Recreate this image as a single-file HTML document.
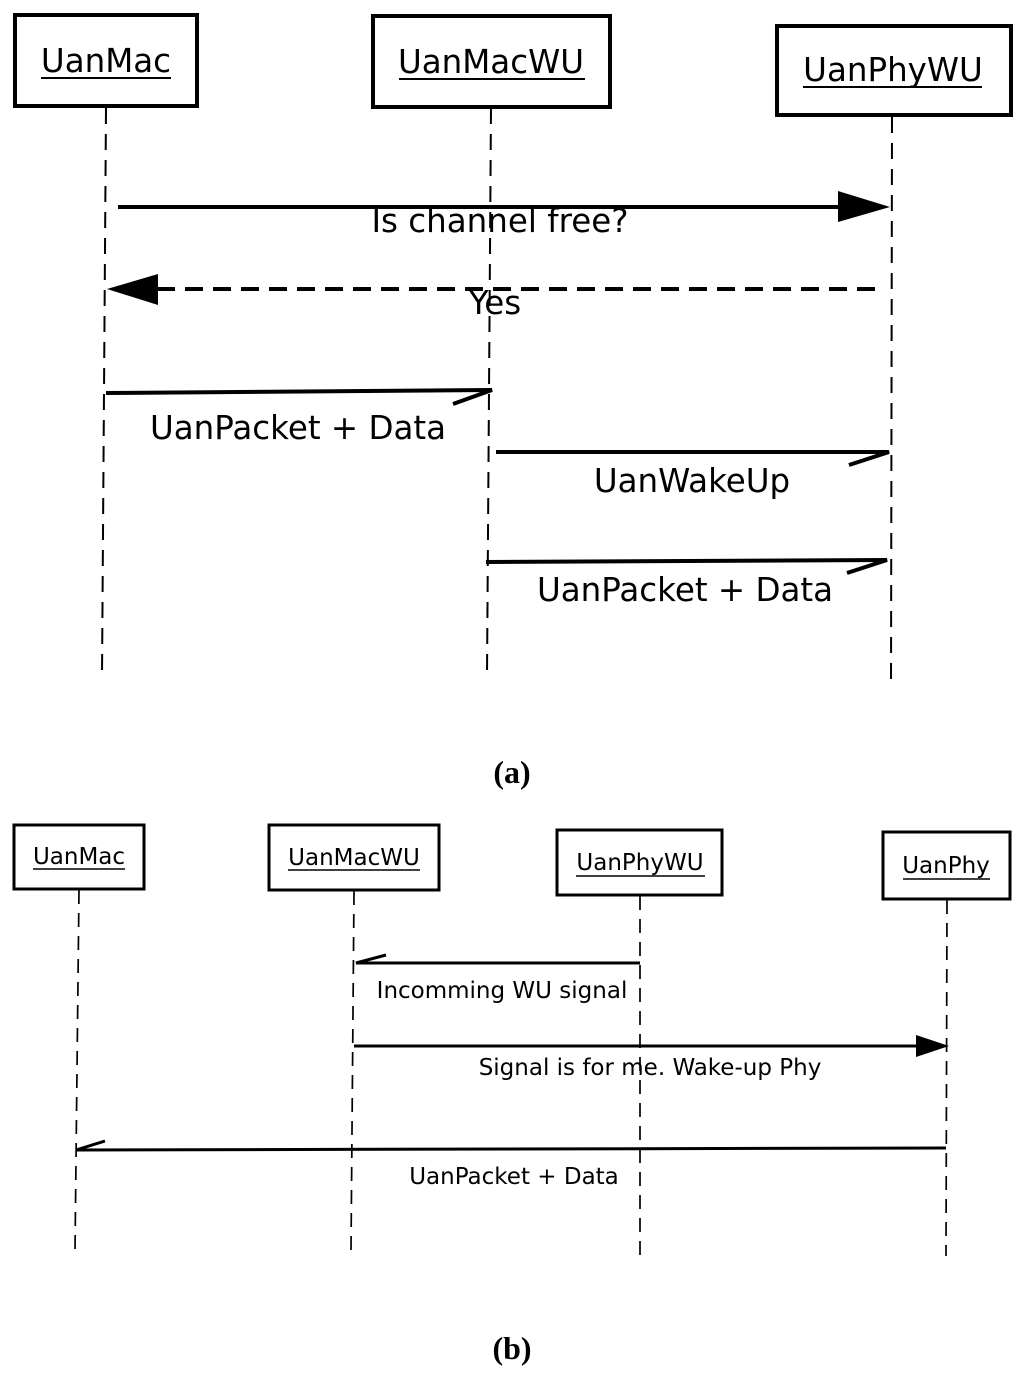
<!DOCTYPE html>
<html><head><meta charset="utf-8"><style>
html,body{margin:0;padding:0;background:#fff}
svg{display:block}
.s{font-family:"DejaVu Sans","Liberation Sans",sans-serif;fill:#000}
.cap{font-family:"Liberation Serif",serif;font-weight:bold;fill:#000}
</style></head><body>
<svg width="1024" height="1377" viewBox="0 0 1024 1377" xmlns="http://www.w3.org/2000/svg">
<g fill="#fff" stroke="#000" stroke-width="4">
<rect x="15" y="15" width="182" height="91"/>
<rect x="373" y="16" width="237" height="91"/>
<rect x="777" y="26" width="234" height="89"/>
</g>
<g class="s" font-size="32.5" text-anchor="middle">
<text x="106" y="72">UanMac</text>
<text x="491" y="73">UanMacWU</text>
<text x="893" y="81">UanPhyWU</text>
</g>
<g stroke="#000" stroke-width="2">
<line x1="41" y1="78" x2="171" y2="78"/>
<line x1="399" y1="79" x2="585" y2="79"/>
<line x1="803" y1="87" x2="982" y2="87"/>
</g>
<g stroke="#000" stroke-width="2" stroke-dasharray="16,10" fill="none">
<line x1="106" y1="108" x2="102" y2="676"/>
<line x1="491" y1="108" x2="487" y2="676"/>
<line x1="892" y1="117" x2="891" y2="686"/>
</g>
<g stroke="#000" stroke-width="4" fill="none">
<line x1="118" y1="207" x2="845" y2="207"/>
<line x1="875" y1="289" x2="150" y2="289" stroke-dasharray="18,10"/>
<polyline points="106,393 492,390 453,404"/>
<polyline points="496,452 889,452 849,465"/>
<polyline points="486,562 887,560 847,573"/>
</g>
<polygon points="838,191 890,207 838,222" fill="#000"/>
<polygon points="158,274 107,289 158,305" fill="#000"/>
<g class="s" font-size="32.5" text-anchor="middle">
<text x="500" y="232">Is channel free?</text>
<text x="495" y="314">Yes</text>
<text x="298" y="439">UanPacket + Data</text>
<text x="692" y="492">UanWakeUp</text>
<text x="685" y="601">UanPacket + Data</text>
</g>
<text class="cap" x="512" y="783" font-size="32" text-anchor="middle">(a)</text>

<g fill="#fff" stroke="#000" stroke-width="3">
<rect x="14" y="825" width="130" height="64"/>
<rect x="269" y="825" width="170" height="65"/>
<rect x="557" y="830" width="165" height="65"/>
<rect x="883" y="832" width="127" height="67"/>
</g>
<g class="s" font-size="23" text-anchor="middle">
<text x="79" y="864">UanMac</text>
<text x="354" y="865">UanMacWU</text>
<text x="640" y="870">UanPhyWU</text>
<text x="946" y="873">UanPhy</text>
</g>
<g stroke="#000" stroke-width="1.5">
<line x1="33" y1="869" x2="125" y2="869"/>
<line x1="288" y1="870" x2="420" y2="870"/>
<line x1="576" y1="876" x2="705" y2="876"/>
<line x1="903" y1="879" x2="990" y2="879"/>
</g>
<g stroke="#000" stroke-width="1.7" stroke-dasharray="14,9" fill="none">
<line x1="79" y1="890" x2="75" y2="1251"/>
<line x1="354" y1="891" x2="351" y2="1251"/>
<line x1="640" y1="896" x2="640" y2="1256"/>
<line x1="947" y1="900" x2="946" y2="1256"/>
</g>
<g stroke="#000" stroke-width="3" fill="none">
<polyline points="640,963 356,963 386,955"/>
<line x1="354" y1="1046" x2="920" y2="1046"/>
<polyline points="946,1148 76,1150 105,1141"/>
</g>
<polygon points="916,1035 949,1046 916,1057" fill="#000"/>
<g class="s" font-size="23" text-anchor="middle">
<text x="502" y="998">Incomming WU signal</text>
<text x="650" y="1075">Signal is for me. Wake-up Phy</text>
<text x="514" y="1184">UanPacket + Data</text>
</g>
<text class="cap" x="512" y="1359" font-size="32" text-anchor="middle">(b)</text>
</svg>
</body></html>
